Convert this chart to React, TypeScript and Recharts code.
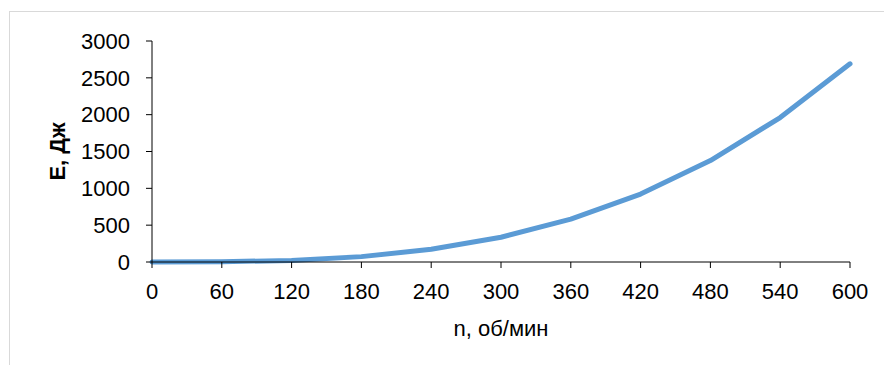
import { LineChart, Line, XAxis, YAxis } from 'recharts';

const speeds = [0, 60, 120, 180, 240, 300, 360, 420, 480, 540, 600];
const energy = [0, 3, 22, 73, 172, 336, 581, 922, 1377, 1961, 2690];
const yTicks = [0, 500, 1000, 1500, 2000, 2500, 3000];

const data = speeds.map((n, i) => ({ n, e: energy[i] }));

const FONT = '"Liberation Sans", Arial, sans-serif';

export default function App() {
  return (
    <div style={{ position: 'absolute', left: 0, top: 0, width: 884, height: 365, overflow: 'hidden', background: '#fff' }}>
      <div style={{ position: 'absolute', left: 9, top: 11, width: 900, height: 400, border: '1px solid #d9d9d9' }} />
      <div style={{ position: 'absolute', left: 0, top: 0 }}>
        <LineChart width={884} height={365} data={data} margin={{ top: 41, right: 34, bottom: 0, left: 0 }}>
          <XAxis
            dataKey="n"
            ticks={speeds}
            interval={0}
            height={103}
            tickSize={6}
            tickMargin={15}
            stroke="#000"
            tick={{ fill: '#000', fontSize: 22, fontFamily: FONT }}
            label={{ value: 'n, об/мин', position: 'insideBottom', offset: 29, fill: '#000', fontSize: 22, fontFamily: FONT }}
          />
          <YAxis
            width={152}
            domain={[0, 3000]}
            ticks={yTicks}
            interval={0}
            tickSize={6}
            tickMargin={16}
            stroke="#000"
            tick={{ fill: '#000', fontSize: 22, fontFamily: FONT }}
            label={{
              content: (props: any) => {
                const vb = props.viewBox || { x: 0, y: 41, height: 221 };
                const cx = vb.x + 57;
                const cy = vb.y + vb.height / 2;
                return (
                  <text
                    x={cx}
                    y={cy}
                    transform={`rotate(-90 ${cx} ${cy})`}
                    textAnchor="middle"
                    dominantBaseline="central"
                    fill="#000"
                    fontSize={22}
                    fontWeight="bold"
                    fontFamily={FONT}
                  >
                    E, Дж
                  </text>
                );
              },
            }}
          />
          <Line
            type="linear"
            dataKey="e"
            stroke="#5B9BD5"
            strokeWidth={5}
            strokeLinecap="round"
            strokeLinejoin="round"
            dot={false}
            activeDot={false}
            isAnimationActive={false}
          />
        </LineChart>
      </div>
    </div>
  );
}
